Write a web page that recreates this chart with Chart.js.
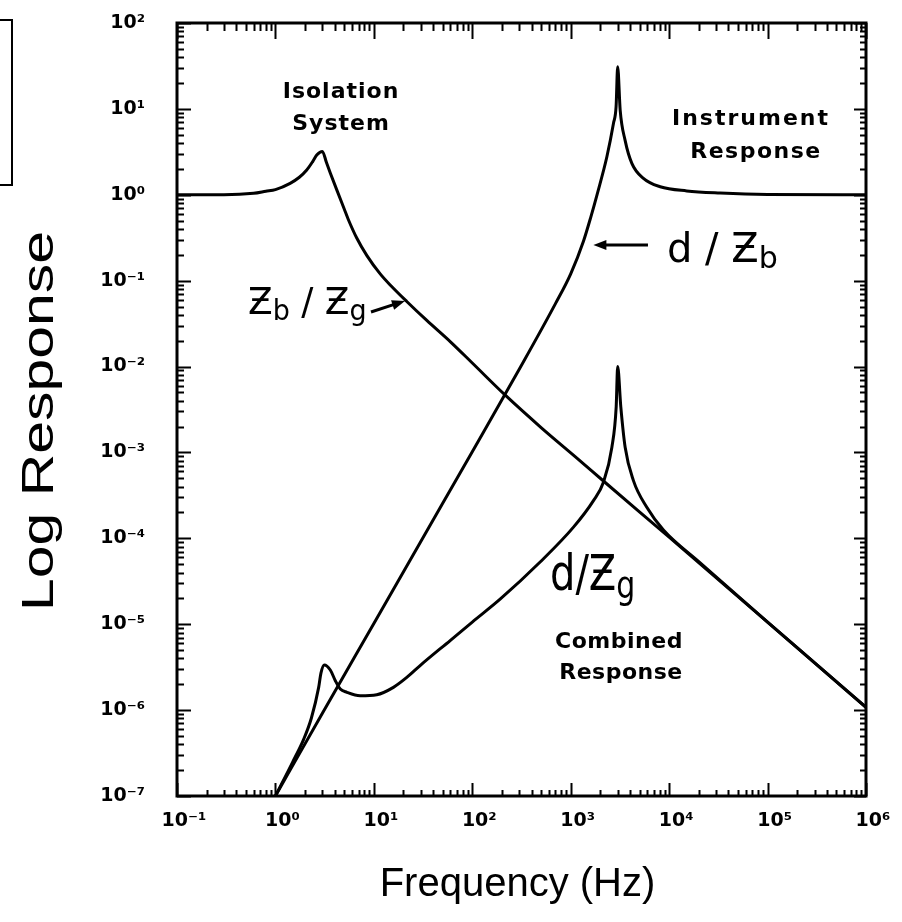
<!DOCTYPE html>
<html>
<head>
<meta charset="utf-8">
<script src="https://cdn.jsdelivr.net/npm/chart.js@4.4.1/dist/chart.umd.min.js"></script>
<style>
  html, body { margin: 0; padding: 0; background: #fff; }
  canvas { display: block; }
</style>
</head>
<body>
<canvas id="chart" width="902" height="922"></canvas>
<script>
// Isolation system transmissibility z_b / z_g
const isolationFreq = [0.1, 0.3, 0.6, 0.8, 1.0, 1.41, 1.75, 2.08, 2.4, 2.63, 3.0, 3.3, 3.6, 4.2, 5.0, 5.5, 6.7, 8.5, 11.6, 15, 21.6, 34.5, 60, 100, 215, 500, 1245, 2150, 1e4, 1e5, 5.9e5, 1e6];
const isolationResp = [1.0, 1.0, 1.04, 1.1, 1.15, 1.36, 1.6, 1.94, 2.45, 2.9, 3.2, 2.37, 1.81, 1.14, 0.683, 0.516, 0.314, 0.196, 0.12, 0.0867, 0.0572, 0.0344, 0.0194, 0.011, 0.00467, 0.00195, 8.0e-4, 4.65e-4, 1.03e-4, 1.06e-5, 1.81e-6, 1.08e-6];

// Instrument response d / z_b
const instrumentFreq = [1, 3, 10, 30, 100, 300, 700, 1000, 1350, 1600, 1850, 2330, 2720, 2890, 3000, 3180, 3570, 4180, 5480, 8110, 15100, 33000, 1e5, 1e6];
const instrumentResp = [1.0e-7, 9.2e-7, 1.02e-5, 9.2e-5, 1.02e-3, 9.3e-3, 5.4e-2, 0.12, 0.29, 0.55, 1.0, 2.77, 6.8, 10.6, 31, 9.7, 4.3, 2.32, 1.55, 1.24, 1.11, 1.05, 1.01, 1.0];

// Combined response d / z_g
const combinedFreq = [1, 1.5, 1.94, 2.32, 2.75, 2.9, 3.14, 3.61, 4.06, 4.56, 5.34, 7.25, 10.7, 15.8, 21.6, 29.5, 60, 100, 193, 489, 1067, 1702, 2150, 2620, 2897, 3000, 3228, 3573, 4337, 5930, 8750, 2e4, 1e5, 1e6];
const combinedResp = [1.0e-7, 2.5e-7, 4.6e-7, 8.1e-7, 1.84e-6, 2.7e-6, 3.36e-6, 2.93e-6, 2.2e-6, 1.76e-6, 1.61e-6, 1.47e-6, 1.51e-6, 1.84e-6, 2.4e-6, 3.3e-6, 6.5e-6, 1.06e-5, 1.97e-5, 5.3e-5, 1.35e-4, 2.75e-4, 4.5e-4, 1.15e-3, 3.4e-3, 1.0e-2, 3.4e-3, 1.15e-3, 4.7e-4, 2.3e-4, 1.25e-4, 5.35e-5, 1.06e-5, 1.08e-6];

// Decade exponents carrying tick labels
const xDecades = [-1, 0, 1, 2, 3, 4, 5, 6];
const yDecades = [-7, -6, -5, -4, -3, -2, -1, 0, 1, 2];

const SUP = { '-': '\u207B', '0': '\u2070', '1': '\u00B9', '2': '\u00B2', '3': '\u00B3',
              '4': '\u2074', '5': '\u2075', '6': '\u2076', '7': '\u2077', '8': '\u2078', '9': '\u2079' };
const decadeText = e => '10' + String(e).split('').map(c => SUP[c]).join('');

function isDecade(v) {
  const l = Math.log10(v);
  return Math.abs(l - Math.round(l)) < 1e-6;
}
// 1..9 per decade between the first and last exponent
function logTicks(decades) {
  const lo = Math.min(...decades), hi = Math.max(...decades);
  const out = [];
  for (let e = lo; e < hi; e++) {
    for (let m = 1; m <= 9; m++) out.push({ value: m * Math.pow(10, e) });
  }
  out.push({ value: Math.pow(10, hi) });
  return out;
}
function labelFor(decades) {
  return v => {
    if (!isDecade(v)) return '';
    const e = Math.round(Math.log10(v));
    return decades.includes(e) ? decadeText(e) : '';
  };
}
const pairs = (xs, ys) => xs.map((x, i) => ({ x: x, y: ys[i] }));

const tickFont = { family: 'DejaVu Sans', weight: 'bold', size: 19 };

// Text notes placed at (frequency, response) anchors
const notes = [
  { text: 'Isolation', f: 4.64, v: 13.4, font: 'bold 22px "DejaVu Sans"', spacing: 1 },
  { text: 'System', f: 4.64, v: 5.68, font: 'bold 22px "DejaVu Sans"', spacing: 1 },
  { text: 'Instrument', f: 67850, v: 6.49, font: 'bold 22px "DejaVu Sans"', spacing: 2 },
  { text: 'Response', f: 76250, v: 2.68, font: 'bold 22px "DejaVu Sans"', spacing: 1.5 },
  { text: 'Combined', f: 3094, v: 5.29e-6, font: 'bold 22px "DejaVu Sans"', spacing: 0.5 },
  { text: 'Response', f: 3242, v: 2.30e-6, font: 'bold 22px "DejaVu Sans"', spacing: 0.5 }
];
// Ratio labels: main letters plus subscripts
const ratioLabels = [
  { f: 0.526, v: 0.0409, size: 36, stretch: 1.05, parts: [['\u01B5', 0], ['b', 1], [' / ', 0], ['\u01B5', 0], ['g', 1]] },
  { f: 9510, v: 0.165, size: 40, stretch: 1.0, parts: [['d', 0], [' / ', 0], ['\u01B5', 0], ['b', 1]] },
  { f: 616, v: 2.5e-5, size: 40, stretch: 1.25, parts: [['d', 0], ['/', 0], ['\u01B5', 0], ['g', 1]] }
];
const arrows = [
  { from: [9.35, 0.0432], to: [20.7, 0.058] },
  { from: [6095, 0.26], to: [1700, 0.26] }
];

const framePlugin = {
  id: 'frameAndNotes',
  afterDraw(chart) {
    const { ctx, chartArea: a, scales: { x, y } } = chart;
    ctx.save();
    ctx.strokeStyle = '#000';
    ctx.fillStyle = '#000';
    ctx.lineCap = 'butt';

    // inward tick marks on all four sides
    ctx.lineWidth = 2;
    ctx.beginPath();
    x.ticks.forEach(t => {
      const px = Math.round(x.getPixelForValue(t.value)) + 0.5;
      const major = isDecade(t.value);
      ctx.moveTo(px, a.bottom); ctx.lineTo(px, a.bottom - (major ? 13 : 6));
      ctx.moveTo(px, a.top); ctx.lineTo(px, a.top + (major ? 16 : 8));
    });
    y.ticks.forEach(t => {
      const py = Math.round(y.getPixelForValue(t.value)) + 0.5;
      const major = isDecade(t.value);
      ctx.moveTo(a.left, py); ctx.lineTo(a.left + (major ? 14 : 7), py);
      ctx.moveTo(a.right, py); ctx.lineTo(a.right - (major ? 12 : 6), py);
    });
    ctx.stroke();

    // plot frame
    ctx.lineWidth = 3;
    ctx.strokeRect(a.left, a.top, a.right - a.left, a.bottom - a.top);

    // open box at the upper left margin
    ctx.lineWidth = 2;
    ctx.strokeRect(-6, 20, 18, 165);

    // curve notes
    ctx.textBaseline = 'alphabetic';
    ctx.textAlign = 'center';
    notes.forEach(n => {
      ctx.font = n.font;
      if ('letterSpacing' in ctx) ctx.letterSpacing = n.spacing + 'px';
      ctx.fillText(n.text, x.getPixelForValue(n.f), y.getPixelForValue(n.v));
    });
    if ('letterSpacing' in ctx) ctx.letterSpacing = '0px';

    // ratio labels
    ctx.textAlign = 'left';
    ratioLabels.forEach(r => {
      ctx.save();
      ctx.translate(x.getPixelForValue(r.f), y.getPixelForValue(r.v));
      ctx.scale(1, r.stretch);
      let px = 0;
      r.parts.forEach(([txt, sub]) => {
        const size = sub ? Math.round(r.size * 0.75) : r.size;
        ctx.font = size + 'px "DejaVu Sans"';
        ctx.fillText(txt, px, sub ? r.size * 0.16 : 0);
        px += ctx.measureText(txt).width;
      });
      ctx.restore();
    });

    // arrows
    arrows.forEach(ar => {
      const x0 = x.getPixelForValue(ar.from[0]), y0 = y.getPixelForValue(ar.from[1]);
      const x1 = x.getPixelForValue(ar.to[0]), y1 = y.getPixelForValue(ar.to[1]);
      const ang = Math.atan2(y1 - y0, x1 - x0);
      const hl = 13, hw = 5;
      ctx.lineWidth = 3;
      ctx.beginPath();
      ctx.moveTo(x0, y0);
      ctx.lineTo(x1 - Math.cos(ang) * hl * 0.8, y1 - Math.sin(ang) * hl * 0.8);
      ctx.stroke();
      ctx.beginPath();
      ctx.moveTo(x1, y1);
      ctx.lineTo(x1 - Math.cos(ang) * hl - Math.sin(ang) * hw, y1 - Math.sin(ang) * hl + Math.cos(ang) * hw);
      ctx.lineTo(x1 - Math.cos(ang) * hl + Math.sin(ang) * hw, y1 - Math.sin(ang) * hl - Math.cos(ang) * hw);
      ctx.closePath();
      ctx.fill();
    });

    // axis titles
    ctx.textAlign = 'center';
    ctx.textBaseline = 'middle';
    ctx.font = '40px "Liberation Sans"';
    ctx.fillText('Frequency (Hz)', (a.left + a.right) / 2 - 4, 885);
    ctx.save();
    ctx.translate(41, 421);
    ctx.rotate(-Math.PI / 2);
    ctx.scale(1.34, 1);
    ctx.font = '44px "Liberation Sans"';
    ctx.fillText('Log Response', 0, 0);
    ctx.restore();

    ctx.restore();
  }
};

const lineStyle = {
  borderColor: '#000',
  borderWidth: 3,
  pointRadius: 0,
  fill: false,
  cubicInterpolationMode: 'monotone',
  borderJoinStyle: 'round'
};

new Chart(document.getElementById('chart'), {
  type: 'line',
  data: {
    datasets: [
      Object.assign({ label: 'z_b / z_g', data: pairs(isolationFreq, isolationResp) }, lineStyle),
      Object.assign({ label: 'd / z_b', data: pairs(instrumentFreq, instrumentResp) }, lineStyle),
      Object.assign({ label: 'd / z_g', data: pairs(combinedFreq, combinedResp) }, lineStyle)
    ]
  },
  options: {
    responsive: false,
    animation: false,
    devicePixelRatio: 1,
    layout: { autoPadding: false, padding: { top: 23, right: 36, left: 0, bottom: 0 } },
    plugins: { legend: { display: false }, tooltip: { enabled: false } },
    scales: {
      x: {
        type: 'logarithmic',
        position: 'bottom',
        min: 0.1,
        max: 1e6,
        afterBuildTicks: s => { s.ticks = logTicks(xDecades); },
        afterFit: s => { s.height = 126; s.paddingLeft = 0; s.paddingRight = 0; },
        grid: { display: false, drawTicks: false },
        border: { display: false },
        ticks: {
          autoSkip: false, maxRotation: 0, minRotation: 0,
          padding: 14, labelOffset: 7, color: '#000', font: tickFont,
          callback: labelFor(xDecades)
        }
      },
      y: {
        type: 'logarithmic',
        position: 'left',
        min: 1e-7,
        max: 1e2,
        afterBuildTicks: s => { s.ticks = logTicks(yDecades); },
        afterFit: s => { s.width = 177; s.paddingTop = 0; s.paddingBottom = 0; },
        grid: { display: false, drawTicks: false },
        border: { display: false },
        ticks: {
          autoSkip: false, padding: 32, color: '#000', font: tickFont,
          callback: labelFor(yDecades)
        }
      }
    }
  },
  plugins: [framePlugin]
});
</script>
</body>
</html>
